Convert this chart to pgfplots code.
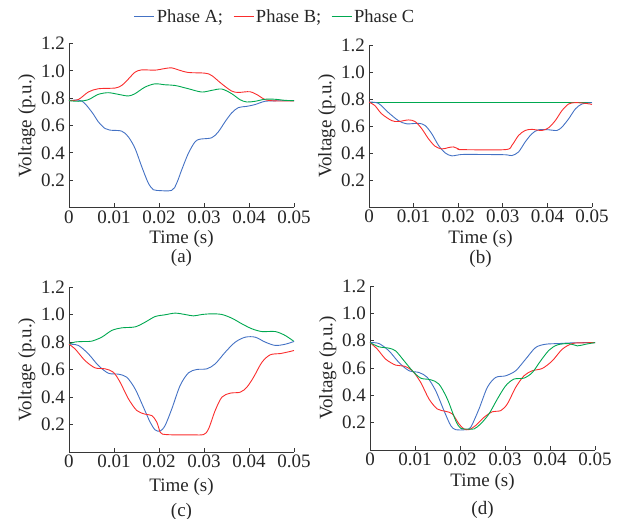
\documentclass[border=0pt]{standalone}
\usepackage{fontspec}
\setmainfont{Liberation Serif}
\usepackage{pgfplots}
\pgfplotsset{compat=1.18}
\definecolor{cA}{RGB}{68,114,196}
\definecolor{cB}{RGB}{250,45,45}
\definecolor{cC}{RGB}{0,168,80}
\definecolor{axgray}{RGB}{55,55,55}
\pgfplotsset{
  panel/.style={
    scale only axis, width=225pt, height=164pt,
    anchor=north west,
    xmin=0, xmax=50, ymin=0, ymax=1.2,
    axis lines=left, axis line style={-, axgray, line width=0.8pt},
    xtick={0,10,20,30,40,50},
    xticklabels={0,0.01,0.02,0.03,0.04,0.05},
    ytick={0.2,0.4,0.6,0.8,1.0,1.2},
    yticklabels={0.2,0.4,0.6,0.8,1.0,1.2},
    tick align=inside, major tick length=4pt,
    tick style={axgray, line width=0.8pt},
    tick label style={font=\fontsize{19}{21}\selectfont, text=black!85},
    xticklabel style={inner sep=3pt},
    yticklabel style={inner sep=4pt},
    label style={font=\fontsize{19}{21}\selectfont, text=black!85},
    xlabel={Time (s)}, ylabel={Voltage (p.u.)},
    xlabel style={inner sep=1pt},
    ylabel style={yshift=-2pt},
    every axis plot/.append style={smooth, line width=0.9pt},
    clip=false,
  },
}
\begin{document}
\begin{tikzpicture}
\path[use as bounding box] (0pt,0pt) rectangle (624pt,-519pt);
% ---------------- (a)
\begin{axis}[panel, at={(69pt,-43.5pt)},
  xlabel style={yshift=-3pt},
  legend columns=3,
  legend style={draw=none, fill=none, font=\fontsize{18.5}{21}\selectfont, text=black!85,
    at={(rel axis cs:0.916,1.162)}, anchor=center,
    /tikz/every even column/.append style={column sep=8pt}},
  legend image code/.code={\draw[#1] (0pt,0pt) -- (20pt,0pt);},
]
\addplot[cA] coordinates {(0,0.782)(2.81,0.78)(5.04,0.70)(6.52,0.627)(8.0,0.578)(9.11,0.566)(11.70,0.559)(13.19,0.517)(14.67,0.433)(16.15,0.30)(17.63,0.178)(18.74,0.13)(19.48,0.125)(22.81,0.125)(23.93,0.178)(25.04,0.275)(26.52,0.396)(28.0,0.48)(29.11,0.50)(31.70,0.51)(33.19,0.554)(34.67,0.627)(36.15,0.692)(37.63,0.731)(39.48,0.74)(41.33,0.753)(43.56,0.777)(46.52,0.781)(50,0.782)};
\addlegendentry{Phase A;}
\addplot[cB] coordinates {(0,0.782)(2.07,0.79)(4.30,0.845)(6.52,0.869)(10.22,0.874)(11.70,0.893)(13.19,0.94)(14.67,0.99)(16.15,1.007)(19.11,1.005)(21.33,1.017)(22.81,1.022)(24.30,1.007)(26.52,0.988)(30.22,0.983)(31.70,0.966)(33.93,0.905)(36.15,0.852)(37.63,0.842)(40.22,0.847)(42.07,0.82)(43.56,0.789)(45.78,0.78)(50,0.78)};
\addlegendentry{Phase B;}
\addplot[cC] coordinates {(0,0.782)(2.07,0.777)(4.30,0.789)(6.52,0.828)(8.74,0.84)(10.96,0.828)(13.19,0.816)(14.67,0.833)(16.89,0.881)(19.11,0.905)(21.33,0.898)(23.56,0.893)(26.52,0.869)(29.48,0.845)(31.70,0.857)(33.93,0.867)(36.15,0.833)(38.0,0.789)(39.48,0.772)(41.33,0.777)(43.56,0.792)(45.78,0.792)(48.0,0.784)(50,0.782)};
\addlegendentry{Phase C}
\end{axis}
% ---------------- (b)
\begin{axis}[panel, at={(369pt,-45pt)}, height=162pt, width=223pt, xlabel style={yshift=-3pt}]
\addplot[cC] coordinates {(0,0.778)(50,0.778)};
\addplot[cA] coordinates {(0,0.777)(2.10,0.768)(4.34,0.70)(6.59,0.64)(8.46,0.616)(11.08,0.62)(12.57,0.604)(14.07,0.543)(15.57,0.457)(17.07,0.401)(18.56,0.379)(20.81,0.389)(25.30,0.389)(30.54,0.387)(32.04,0.381)(33.53,0.408)(35.03,0.482)(36.53,0.543)(38.02,0.572)(40.27,0.572)(42.14,0.567)(43.26,0.592)(44.76,0.653)(46.26,0.726)(47.75,0.763)(50,0.773)};
\addplot[cB] coordinates {(0,0.777)(1.35,0.75)(2.84,0.69)(5.09,0.64)(6.59,0.633)(8.83,0.645)(10.33,0.633)(11.83,0.58)(13.32,0.506)(14.82,0.45)(16.32,0.43)(17.81,0.44)(18.94,0.445)(20.06,0.43)(20.81,0.425)(30.54,0.425)(32.04,0.457)(33.53,0.53)(35.03,0.567)(36.53,0.575)(38.77,0.567)(40.27,0.587)(41.77,0.64)(43.26,0.714)(44.76,0.763)(46.26,0.773)(48.50,0.768)(50,0.76)};
\end{axis}
% ---------------- (c)
\begin{axis}[panel, at={(69pt,-287pt)}, height=165pt, xlabel style={yshift=-6pt}]
\addplot[cC] coordinates {(0,0.784)(1.34,0.80)(3.56,0.804)(5.04,0.806)(7.27,0.835)(9.50,0.884)(11.72,0.903)(14.69,0.91)(16.91,0.944)(19.14,0.985)(21.36,0.998)(23.59,1.01)(25.82,1.0)(27.67,0.99)(29.53,1.0)(31.75,1.005)(33.98,1.0)(36.20,0.973)(38.43,0.932)(40.65,0.896)(42.88,0.876)(45.85,0.876)(48.07,0.847)(50,0.804)};
\addplot[cA] coordinates {(0,0.784)(2.08,0.775)(4.30,0.714)(6.53,0.629)(8.75,0.573)(10.98,0.566)(12.83,0.544)(14.69,0.459)(16.54,0.326)(18.03,0.217)(19.14,0.161)(20.25,0.152)(21.36,0.193)(22.85,0.314)(24.70,0.484)(26.56,0.576)(28.41,0.60)(30.64,0.605)(32.49,0.641)(34.72,0.726)(36.94,0.799)(39.17,0.835)(41.39,0.835)(43.62,0.799)(45.85,0.775)(48.07,0.784)(50,0.804)};
\addplot[cB] coordinates {(0,0.784)(1.34,0.75)(3.56,0.665)(5.79,0.612)(8.01,0.605)(9.87,0.58)(11.35,0.508)(13.20,0.387)(15.06,0.302)(16.91,0.275)(18.40,0.265)(19.51,0.217)(20.25,0.144)(20.77,0.13)(22.85,0.125)(27.30,0.125)(29.90,0.127)(31.01,0.168)(32.49,0.302)(33.98,0.399)(35.83,0.428)(38.06,0.435)(39.54,0.472)(41.02,0.544)(42.88,0.653)(44.73,0.707)(46.96,0.716)(48.44,0.726)(50,0.738)};
\end{axis}
% ---------------- (d)
\begin{axis}[panel, at={(370pt,-286pt)}, xlabel style={yshift=-3pt}]
\addplot[cA] coordinates {(0,0.786)(2.0,0.779)(4.22,0.725)(6.44,0.64)(8.67,0.58)(10.89,0.567)(12.74,0.531)(14.59,0.434)(16.44,0.288)(17.93,0.179)(19.04,0.149)(21.26,0.149)(22.37,0.166)(24.22,0.30)(26.07,0.458)(27.93,0.531)(30.15,0.543)(32.37,0.58)(34.59,0.665)(36.81,0.75)(39.04,0.774)(42.0,0.779)(44.96,0.784)(50,0.786)};
\addplot[cB] coordinates {(0,0.786)(1.63,0.738)(3.48,0.665)(5.70,0.621)(7.56,0.614)(9.41,0.58)(11.26,0.495)(13.11,0.373)(14.96,0.30)(16.81,0.283)(18.30,0.264)(19.78,0.191)(20.89,0.154)(22.0,0.149)(23.48,0.179)(25.33,0.239)(27.19,0.28)(29.04,0.288)(30.52,0.337)(32.37,0.458)(34.22,0.543)(36.07,0.58)(38.30,0.597)(40.52,0.653)(42.74,0.738)(44.96,0.779)(47.19,0.784)(50,0.786)};
\addplot[cC] coordinates {(0,0.786)(2.0,0.755)(4.22,0.745)(5.70,0.725)(7.56,0.653)(9.41,0.58)(11.26,0.526)(13.48,0.514)(15.33,0.482)(17.19,0.373)(19.04,0.215)(20.15,0.159)(21.63,0.154)(23.11,0.154)(24.59,0.191)(26.44,0.264)(28.30,0.373)(30.15,0.47)(32.0,0.519)(34.22,0.526)(36.07,0.567)(37.93,0.653)(39.78,0.73)(41.63,0.769)(44.22,0.779)(46.07,0.762)(47.93,0.774)(50,0.786)};
\end{axis}
% captions
\node[inner sep=0pt, font=\fontsize{19}{21}\selectfont, text=black!85] at (181.5pt,-258pt) {(a)};
\node[inner sep=0pt, font=\fontsize{19}{21}\selectfont, text=black!85] at (480.5pt,-259pt) {(b)};
\node[inner sep=0pt, font=\fontsize{19}{21}\selectfont, text=black!85] at (181.5pt,-511.5pt) {(c)};
\node[inner sep=0pt, font=\fontsize{19}{21}\selectfont, text=black!85] at (482.5pt,-509.5pt) {(d)};
\end{tikzpicture}
\end{document}
